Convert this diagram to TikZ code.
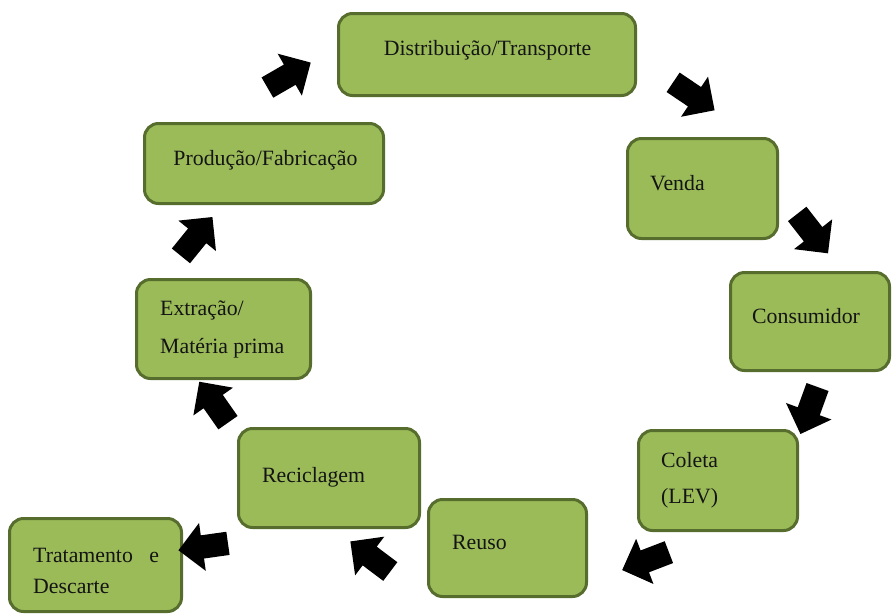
\documentclass[tikz,border=0pt]{standalone}
\usepackage{fontspec}
\setmainfont{Liberation Serif}
\usetikzlibrary{shapes.arrows}
\definecolor{leaf}{HTML}{9BBB59}
\definecolor{moss}{HTML}{566D2D}
\definecolor{ink}{HTML}{141414}
\tikzset{
  stage node/.style={
    rectangle,
    draw=moss,
    fill=leaf,
    line width=3pt,
    rounded corners=14pt,
    inner sep=0pt,
  },
  stage text/.style={
    font=\fontsize{21.8}{26}\selectfont,
    text=ink,
    inner sep=0pt,
    anchor=base west,
  },
  flow arrow/.style={
    single arrow,
    fill=black,
    minimum height=50pt,
    minimum width=0pt,
    inner xsep=0pt,
    inner ysep=11.5pt,
    single arrow head extend=12.5pt,
  },
}

\begin{document}
\begin{tikzpicture}[x=1pt, y=-1pt]
  \useasboundingbox (0,0) rectangle (892,614);

  % --- Stages of the cycle ---
  \node[stage node, minimum width=297pt, minimum height=82pt] (dist) at (487,54.5) {};
  \node[stage node, minimum width=150pt, minimum height=100pt] (venda) at (702.5,188.5) {};
  \node[stage node, minimum width=159pt, minimum height=98pt] (cons) at (810,321.5) {};
  \node[stage node, minimum width=159pt, minimum height=100pt] (coleta) at (718,480.5) {};
  \node[stage node, minimum width=158pt, minimum height=97pt] (reuso) at (507.5,548) {};
  \node[stage node, minimum width=181pt, minimum height=99pt] (recic) at (329,478) {};
  \node[stage node, minimum width=172pt, minimum height=93pt] (trat) at (95.5,565) {};
  \node[stage node, minimum width=174pt, minimum height=99pt] (extr) at (223.5,329) {};
  \node[stage node, minimum width=239pt, minimum height=80pt] (prod) at (264,163.5) {};

  % --- Stage texts ---
  \node[stage text, anchor=base] (dist-t) at (487.5,55) {Distribuição/Transporte};
  \node[stage text] (venda-t) at (650,190) {Venda};
  \node[stage text] (cons-t) at (752,323) {Consumidor};
  \node[stage text] (coleta-t1) at (661,467) {Coleta};
  \node[stage text] (coleta-t2) at (661,503) {(LEV)};
  \node[stage text] (reuso-t) at (452,549) {Reuso};
  \node[stage text] (recic-t) at (262,482) {Reciclagem};
  \node[stage text] (trat-t1) at (33,562) {Tratamento\hspace{11pt} e};
  \node[stage text] (trat-t2) at (33,593) {Descarte};
  \node[stage text] (extr-t1) at (160,315) {Extração/};
  \node[stage text] (extr-t2) at (160,353) {Matéria prima};
  \node[stage text, anchor=base] (prod-t) at (265.5,165) {Produção/Fabricação};

  % --- Block arrows between stages ---
  \foreach \pos/\ang [count=\k] in {{(284,78)}/30, {(689,93)}/-34, {(809,229)}/-52,
      {(811,405)}/-110, {(651,559)}/201, {(375,560)}/143, {(209,546)}/188,
      {(217,407)}/125, {(193,241)}/51} {
    \node[flow arrow, rotate=\ang] (arr\k) at \pos {};
  }

\end{tikzpicture}
\end{document}
